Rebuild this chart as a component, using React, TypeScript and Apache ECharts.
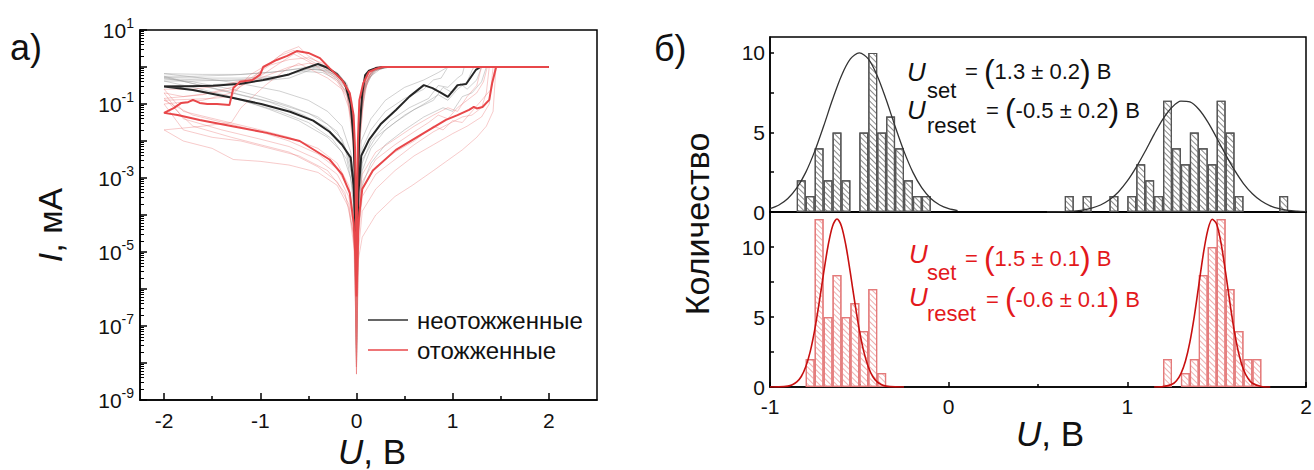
import React, { useEffect, useRef } from 'react';
import * as echarts from 'echarts';

const FONT = 'Liberation Sans';

// ---------- panel (a): I-V curves, [U (V), log10(I / mA)] ----------
const ivXTicks = [-2, -1, 0, 1, 2];
const ivXMinor = [-1.5, -0.5, 0.5, 1.5];
const ivYLabels = [-9, -7, -5, -3, -1, 1];
const ivYTicks = [-9, -8, -7, -6, -5, -4, -3, -2, -1, 0, 1];

const blackMain: number[][] = [
  [0, -5.3], [0.02, -3.4], [0.05, -2.4], [0.13, -1.97], [0.25, -1.55], [0.41, -1.16], [0.55, -0.8], [0.7, -0.49],
  [0.79, -0.57], [0.88, -0.7], [0.95, -0.81], [1.05, -0.49], [1.14, -0.46], [1.24, -0.08], [1.29, 0], [2.0, 0],
  [0.29, 0], [0.2, -0.03], [0.13, -0.1], [0.09, -0.22], [0.06, -0.71], [0.03, -1.8], [0.01, -3.5], [0, -5.3],
  [-0.01, -3.5], [-0.03, -2.0], [-0.06, -1.0], [-0.12, -0.45], [-0.2, -0.2], [-0.3, -0.02], [-0.4, 0.08],
  [-0.55, -0.05], [-0.7, -0.2], [-0.97, -0.35], [-1.2, -0.45], [-1.49, -0.51], [-1.75, -0.52], [-2.0, -0.53],
  [-1.7, -0.62], [-1.28, -0.84], [-0.99, -1.0], [-0.69, -1.21], [-0.45, -1.45], [-0.28, -1.75], [-0.15, -2.1],
  [-0.06, -2.45], [-0.03, -3.2], [-0.01, -4.4], [0, -5.3],
];

const redMain: number[][] = [
  [0, -6.2], [0.02, -4.3], [0.03, -3.95], [0.06, -3.3], [0.17, -2.8], [0.41, -2.24], [0.69, -1.8], [0.93, -1.43],
  [1.05, -1.3], [1.17, -1.16], [1.22, -1.08], [1.25, -1.12], [1.31, -1.08], [1.38, -0.89], [1.41, -0.44],
  [1.45, -0.02], [1.46, 0], [2.0, 0], [0.27, 0], [0.2, -0.05], [0.13, -0.13], [0.07, -0.44], [0.03, -0.9],
  [0.015, -2.0], [0.005, -4], [0, -6.2],
  [-0.005, -4], [-0.015, -2.2], [-0.03, -1.3], [-0.07, -0.7], [-0.15, -0.35], [-0.28, -0.03], [-0.38, 0.24],
  [-0.5, 0.38], [-0.62, 0.43], [-0.72, 0.3], [-0.83, 0.19], [-0.97, 0.0], [-1.0, -0.2], [-1.08, -0.35],
  [-1.21, -0.4], [-1.28, -0.57], [-1.32, -1.03], [-1.45, -1.0], [-1.55, -1.0], [-1.63, -0.97], [-1.7, -0.89],
  [-1.75, -0.95], [-1.82, -0.97], [-1.9, -1.11], [-2.0, -1.24],
  [-1.86, -1.3], [-1.63, -1.43], [-1.29, -1.6], [-0.93, -1.78], [-0.59, -2.0], [-0.28, -2.5], [-0.15, -2.9],
  [-0.07, -3.4], [-0.03, -4.2], [-0.01, -5.2], [0, -6.2],
];

const grayFaint: number[][][] = [
  [[0, -7], [0.01, -3.5], [0.05, -2.0], [0.15, -1.4], [0.3, -0.9], [0.5, -0.55], [0.7, -0.35], [0.85, -0.15], [0.95, 0], [0.35, 0], [0.2, -0.08], [0.1, -0.3], [0.05, -0.9], [0.02, -2], [0, -7], [-0.02, -2], [-0.05, -0.9], [-0.1, -0.45], [-0.2, -0.15], [-0.35, 0.02], [-0.5, 0], [-0.8, -0.12], [-1.2, -0.2], [-1.6, -0.2], [-2, -0.18], [-1.6, -0.3], [-1.2, -0.45], [-0.8, -0.65], [-0.5, -0.9], [-0.3, -1.2], [-0.15, -1.6], [-0.06, -2.3], [-0.02, -3.2], [0, -7]],
  [[0, -7.8], [0.02, -4], [0.06, -2.8], [0.15, -2.2], [0.3, -1.7], [0.5, -1.3], [0.7, -1.0], [0.85, -0.75], [0.95, -0.9], [1.05, -0.6], [1.15, -0.4], [1.2, -0.1], [1.22, 0], [0.3, 0], [0.18, -0.1], [0.1, -0.5], [0.05, -1.3], [0.02, -2.6], [0, -7.8], [-0.02, -2.4], [-0.05, -1.2], [-0.1, -0.6], [-0.2, -0.3], [-0.35, -0.1], [-0.5, -0.05], [-0.8, -0.25], [-1.2, -0.3], [-1.6, -0.3], [-2, -0.28], [-1.6, -0.5], [-1.2, -0.75], [-0.8, -1.0], [-0.5, -1.25], [-0.3, -1.55], [-0.15, -1.95], [-0.06, -2.6], [-0.02, -3.6], [0, -7.8]],
  [[0, -8.1], [0.02, -4.5], [0.06, -3.2], [0.15, -2.6], [0.3, -2.1], [0.5, -1.7], [0.7, -1.35], [0.9, -1.1], [1.0, -1.2], [1.1, -0.8], [1.2, -0.7], [1.3, -0.4], [1.35, 0], [0.25, 0], [0.15, -0.15], [0.08, -0.6], [0.04, -1.5], [0.015, -3], [0, -8.1], [-0.015, -2.8], [-0.04, -1.5], [-0.1, -0.7], [-0.2, -0.35], [-0.35, -0.15], [-0.55, -0.12], [-0.9, -0.3], [-1.3, -0.35], [-1.7, -0.38], [-2, -0.38], [-1.7, -0.55], [-1.3, -0.8], [-0.9, -1.15], [-0.6, -1.45], [-0.3, -1.9], [-0.15, -2.3], [-0.06, -3], [-0.02, -4], [0, -8.1]],
  [[0, -7.2], [0.02, -3.2], [0.06, -2.2], [0.15, -1.7], [0.3, -1.2], [0.5, -0.85], [0.7, -0.6], [0.8, -0.35], [0.88, -0.3], [0.95, 0], [0.35, 0], [0.25, -0.05], [0.15, -0.25], [0.07, -0.7], [0.03, -1.6], [0, -7.2], [-0.03, -1.5], [-0.07, -0.7], [-0.15, -0.35], [-0.3, -0.1], [-0.45, -0.05], [-0.7, -0.3], [-1.0, -0.38], [-1.4, -0.36], [-2, -0.32], [-1.7, -0.4], [-1.3, -0.6], [-1.0, -0.8], [-0.7, -1.05], [-0.4, -1.35], [-0.2, -1.75], [-0.08, -2.4], [-0.03, -3.2], [0, -7.2]],
  [[0, -7.6], [0.02, -3.8], [0.06, -2.6], [0.15, -2.0], [0.35, -1.45], [0.55, -1.1], [0.75, -0.85], [0.85, -0.5], [0.95, -0.55], [1.05, -0.3], [1.1, -0.2], [1.12, 0], [0.32, 0], [0.2, -0.1], [0.1, -0.4], [0.05, -1.1], [0.02, -2.3], [0, -7.6], [-0.02, -2.2], [-0.05, -1.0], [-0.1, -0.5], [-0.2, -0.22], [-0.4, -0.05], [-0.6, -0.1], [-0.9, -0.35], [-1.3, -0.45], [-1.7, -0.5], [-2, -0.5], [-1.6, -0.65], [-1.2, -0.9], [-0.8, -1.2], [-0.5, -1.5], [-0.25, -1.95], [-0.1, -2.5], [-0.03, -3.4], [0, -7.6]],
  [[0, -6.8], [0.02, -3.6], [0.06, -2.5], [0.2, -1.9], [0.4, -1.5], [0.6, -1.15], [0.8, -0.9], [0.9, -0.55], [1.0, -0.7], [1.08, -0.45], [1.15, -0.6], [1.25, -0.35], [1.3, 0], [0.28, 0], [0.18, -0.12], [0.09, -0.45], [0.04, -1.2], [0.015, -2.5], [0, -6.8], [-0.02, -2.0], [-0.06, -0.9], [-0.12, -0.4], [-0.25, -0.12], [-0.4, 0.0], [-0.6, -0.05], [-0.9, -0.15], [-1.3, -0.22], [-1.7, -0.25], [-2, -0.25], [-1.7, -0.45], [-1.3, -0.7], [-0.9, -0.95], [-0.55, -1.3], [-0.3, -1.65], [-0.12, -2.2], [-0.04, -3.0], [0, -6.8]],
];

const pinkFaint: number[][][] = [
  [[0, -8.3], [0.02, -5], [0.06, -3.9], [0.2, -3.3], [0.4, -2.8], [0.6, -2.4], [0.8, -2.1], [1.0, -1.8], [1.15, -1.6], [1.3, -1.35], [1.38, -1.0], [1.42, 0], [0.22, 0], [0.14, -0.2], [0.08, -0.7], [0.04, -1.8], [0.015, -3.5], [0, -8.3], [-0.015, -3.3], [-0.04, -1.7], [-0.1, -0.8], [-0.2, -0.4], [-0.35, -0.1], [-0.5, 0.15], [-0.65, 0.35], [-0.8, 0.1], [-1.0, -0.25], [-1.3, -0.55], [-1.6, -0.75], [-2, -0.85], [-1.7, -1.6], [-1.3, -1.9], [-1.0, -2.1], [-0.7, -2.3], [-0.4, -2.7], [-0.2, -3.1], [-0.08, -3.7], [-0.02, -4.8], [0, -8.3]],
  [[0, -7.9], [0.02, -4.6], [0.06, -3.5], [0.2, -2.9], [0.4, -2.5], [0.6, -2.1], [0.8, -1.75], [0.95, -1.55], [1.1, -1.35], [1.2, -1.3], [1.3, -1.1], [1.35, -0.7], [1.38, 0], [0.25, 0], [0.15, -0.12], [0.08, -0.5], [0.04, -1.3], [0.015, -3.0], [0, -7.9], [-0.015, -3.0], [-0.04, -1.5], [-0.1, -0.7], [-0.2, -0.3], [-0.35, 0.05], [-0.5, 0.3], [-0.6, 0.55], [-0.75, 0.4], [-0.9, 0.1], [-1.1, -0.2], [-1.25, -0.6], [-1.5, -0.7], [-1.8, -0.8], [-2, -0.7], [-1.8, -1.4], [-1.4, -1.7], [-1.0, -1.95], [-0.7, -2.15], [-0.4, -2.5], [-0.2, -2.9], [-0.08, -3.5], [-0.02, -4.5], [0, -7.9]],
  [[0, -8.1], [0.02, -5.2], [0.06, -4.6], [0.2, -4.0], [0.4, -3.5], [0.58, -3.2], [0.8, -2.8], [1.1, -2.24], [1.25, -1.9], [1.35, -1.6], [1.42, -1.2], [1.45, 0], [0.2, 0], [0.12, -0.3], [0.07, -1.0], [0.03, -2.2], [0.01, -4], [0, -8.1], [-0.01, -4], [-0.03, -2.2], [-0.08, -1.1], [-0.15, -0.6], [-0.3, -0.3], [-0.45, -0.1], [-0.6, 0.1], [-0.75, -0.1], [-0.95, -0.5], [-1.2, -1.1], [-1.3, -1.5], [-1.6, -1.6], [-2, -1.7], [-1.8, -2.0], [-1.5, -2.2], [-1.28, -2.5], [-1.0, -2.55], [-0.7, -2.65], [-0.4, -2.85], [-0.2, -3.2], [-0.08, -3.8], [-0.02, -5], [0, -8.1]],
  [[0, -7.0], [0.02, -4.2], [0.06, -3.1], [0.2, -2.5], [0.4, -2.1], [0.6, -1.75], [0.75, -1.5], [0.85, -1.3], [0.95, -1.4], [1.05, -1.1], [1.15, -0.9], [1.25, -0.7], [1.32, -0.4], [1.36, 0], [0.3, 0], [0.2, -0.1], [0.1, -0.4], [0.05, -1.0], [0.02, -2.4], [0, -7], [-0.02, -2.5], [-0.05, -1.2], [-0.1, -0.6], [-0.2, -0.25], [-0.35, 0.1], [-0.5, 0.25], [-0.7, 0.2], [-0.9, 0.05], [-1.1, -0.3], [-1.4, -0.5], [-1.7, -0.6], [-2, -0.6], [-1.8, -1.2], [-1.4, -1.45], [-1.0, -1.7], [-0.7, -1.9], [-0.4, -2.2], [-0.2, -2.6], [-0.08, -3.2], [-0.02, -4.2], [0, -7]],
  [[0, -7.5], [0.02, -4.4], [0.06, -3.3], [0.2, -2.7], [0.4, -2.3], [0.6, -2.0], [0.8, -1.6], [0.9, -1.7], [1.0, -1.45], [1.1, -1.5], [1.2, -1.2], [1.3, -0.9], [1.4, -0.6], [1.44, 0], [0.24, 0], [0.15, -0.15], [0.08, -0.6], [0.04, -1.5], [0.015, -3.2], [0, -7.5], [-0.015, -3.0], [-0.04, -1.6], [-0.1, -0.75], [-0.2, -0.35], [-0.35, 0.0], [-0.5, 0.2], [-0.65, 0.45], [-0.8, 0.3], [-0.95, 0.0], [-1.1, -0.35], [-1.3, -0.7], [-1.6, -0.9], [-2, -1.0], [-1.8, -1.7], [-1.5, -1.9], [-1.2, -2.0], [-0.9, -2.2], [-0.6, -2.4], [-0.3, -2.8], [-0.12, -3.4], [-0.03, -4.5], [0, -7.5]],
  [[0, -6.6], [0.02, -3.8], [0.06, -2.9], [0.2, -2.3], [0.4, -1.95], [0.6, -1.6], [0.8, -1.3], [0.95, -1.1], [1.05, -1.2], [1.15, -0.8], [1.25, -0.5], [1.3, 0], [0.3, 0], [0.18, -0.08], [0.1, -0.35], [0.05, -0.9], [0.02, -2.2], [0, -6.6], [-0.02, -2.2], [-0.05, -1.0], [-0.1, -0.5], [-0.2, -0.2], [-0.35, 0.05], [-0.5, 0.1], [-0.7, 0.0], [-0.9, -0.2], [-1.2, -0.5], [-1.3, -0.8], [-1.5, -0.85], [-2, -0.9], [-1.7, -1.3], [-1.3, -1.55], [-1.0, -1.75], [-0.7, -2.0], [-0.4, -2.35], [-0.2, -2.75], [-0.08, -3.3], [-0.02, -4.3], [0, -6.6]],
];

const legendLabels = ['неотожженные', 'отожженные'];

// ---------- panel (б): histograms ----------
const histXTicks = [-1, 0, 1, 2];
const histXMinor = [-0.5, 0.5, 1.5];
const histYLabels = [0, 5, 10];
const histYTicks = [0, 2.5, 5, 7.5, 10];
const binWidth = 0.05;

const topResetStart = -0.85;
const topResetCounts = [2, 1, 4, 2, 5, 2, 0, 5, 10, 5, 6, 4, 2, 1, 1];
const topSetStart = 0.65;
const topSetCounts = [1, 0, 1, 0, 0, 1, 0, 1, 3, 2, 1, 7, 4, 3, 5, 4, 3, 7, 5, 1, 0, 0, 0, 0, 1];
const bottomResetStart = -0.8;
const bottomResetCounts = [2, 12, 5, 8, 5, 6, 4, 7, 1];
const bottomSetStart = 1.2;
const bottomSetCounts = [2, 0, 1, 2, 8, 10, 12, 7, 4, 2, 2];

const topResetFit = [[-1, 0.21], [-0.95, 0.44], [-0.9, 0.85], [-0.85, 1.51], [-0.8, 2.49], [-0.75, 3.81], [-0.7, 5.39], [-0.65, 7.07], [-0.6, 8.57], [-0.55, 9.62], [-0.5, 10], [-0.45, 9.62], [-0.4, 8.57], [-0.35, 7.07], [-0.3, 5.39], [-0.25, 3.81], [-0.2, 2.49], [-0.15, 1.51], [-0.1, 0.85], [-0.05, 0.44], [0, 0.21], [0.05, 0.09]];
const topSetFit = [[0.55, 0.004], [0.6, 0.011], [0.65, 0.026], [0.7, 0.057], [0.75, 0.12], [0.8, 0.24], [0.85, 0.44], [0.9, 0.77], [0.95, 1.26], [1.0, 1.95], [1.05, 2.82], [1.1, 3.82], [1.15, 4.88], [1.2, 5.85], [1.25, 6.58], [1.3, 6.97], [1.35, 6.92], [1.4, 6.46], [1.45, 5.67], [1.5, 4.67], [1.55, 3.61], [1.6, 2.63], [1.65, 1.79], [1.7, 1.15], [1.75, 0.69], [1.8, 0.39], [1.85, 0.21], [1.9, 0.1], [1.95, 0.05], [2.0, 0.02]];
const bottomResetFit = [[-1, 0.001], [-0.95, 0.008], [-0.9, 0.06], [-0.875, 0.16], [-0.85, 0.36], [-0.825, 0.75], [-0.8, 1.44], [-0.775, 2.53], [-0.75, 4.07], [-0.725, 6.01], [-0.7, 8.13], [-0.675, 10.09], [-0.65, 11.49], [-0.625, 12], [-0.6, 11.49], [-0.575, 10.09], [-0.55, 8.13], [-0.525, 6.01], [-0.5, 4.07], [-0.475, 2.53], [-0.45, 1.44], [-0.425, 0.75], [-0.4, 0.36], [-0.375, 0.16], [-0.35, 0.06], [-0.3, 0.008], [-0.25, 0.001]];
const bottomSetFit = [[1.15, 0.002], [1.2, 0.026], [1.25, 0.19], [1.275, 0.45], [1.3, 0.96], [1.325, 1.84], [1.35, 3.21], [1.375, 5.07], [1.4, 7.28], [1.425, 9.48], [1.45, 11.19], [1.475, 11.98], [1.5, 11.63], [1.525, 10.24], [1.55, 8.18], [1.575, 5.93], [1.6, 3.9], [1.625, 2.32], [1.65, 1.25], [1.675, 0.62], [1.7, 0.27], [1.75, 0.04], [1.8, 0.004]];

const topTexts = ['1.3 ± 0.2', '-0.5 ± 0.2'];
const bottomTexts = ['1.5 ± 0.1', '-0.6 ± 0.1'];

// ---------- layout ----------
const GL = { left: 140, top: 30, width: 457, height: 370 };
const GT = { left: 770, top: 37, width: 536, height: 175 };
const GB = { left: 770, top: 212, width: 536, height: 175 };
const RED_TXT = '#e3191c';

function bins(start: number, counts: number[]) {
  const out: number[][] = [];
  counts.forEach((c, i) => {
    if (c > 0) out.push([start + (i + 0.5) * binWidth, c]);
  });
  return out;
}

function logMinorTicks() {
  const out: number[] = [];
  for (let n = -9; n < 1; n++) for (let k = 2; k <= 9; k++) out.push(n + Math.log10(k));
  return out;
}

export default function App() {
  const ref = useRef<HTMLDivElement>(null);
  useEffect(() => {
    if (!ref.current) return;
    const chart = echarts.init(ref.current, undefined, { renderer: 'svg' });
    const ax = { color: '#000', width: 1.5 };
    const gridBase = { show: true, borderColor: '#000', borderWidth: 1.5, backgroundColor: 'transparent', containLabel: false, outerBoundsMode: 'none' };
    const barPx = (binWidth * GT.width) / 3;

    const faint = (arr: number[][][], color: string) =>
      arr.map((d) => ({
        type: 'line', xAxisIndex: 0, yAxisIndex: 0, data: d, showSymbol: false, silent: true,
        lineStyle: { color, width: 0.8 }, z: 2,
      }));

    const decal = (color: string) => ({
      symbol: 'rect', symbolSize: 1, color, dashArrayX: [1, 0], dashArrayY: [1, 3], rotation: Math.PI / 4,
    });

    const txt = (x: number, y: number, text: string, size: number, color: string, extra: any = {}) => ({
      type: 'text', x, y, silent: true,
      style: { text, fontSize: size, fontFamily: FONT, fill: color, verticalAlign: 'middle', align: 'left', ...extra },
    });

    const eq = (x: number, y: number, inner: string, color: string) => ({
      type: 'text', x, y, silent: true,
      style: {
        text: `{t|= }{p|(}{t|${inner}}{p|)}{t| В}`, fill: color, verticalAlign: 'middle', align: 'left', fontFamily: FONT,
        rich: {
          t: { fontSize: 22, fontFamily: FONT, fill: color, verticalAlign: 'middle', lineHeight: 34 },
          p: { fontSize: 32, fontFamily: FONT, fill: color, verticalAlign: 'middle', lineHeight: 34 },
        },
      },
    });

    const axisTitle = (x: number, y: number, italic: string, rest: string, size: number, rotation = 0) => ({
      type: 'text', x, y, rotation, silent: true,
      style: {
        text: `{i|${italic}}{n|${rest}}`, align: 'center', verticalAlign: 'middle',
        rich: {
          i: { fontSize: size, fontFamily: FONT, fontStyle: 'italic', fill: '#111' },
          n: { fontSize: size, fontFamily: FONT, fill: '#111' },
        },
      },
    });

    const option: any = {
      animation: false,
      textStyle: { fontFamily: FONT },
      grid: [
        { ...gridBase, ...GL },
        { ...gridBase, ...GT },
        { ...gridBase, ...GB },
      ],
      xAxis: [
        {
          gridIndex: 0, type: 'value', min: -2.25, max: 2.5, position: 'bottom',
          axisLine: { show: true, onZero: false, lineStyle: ax }, splitLine: { show: false },
          axisTick: { show: true, inside: true, length: 7, customValues: ivXTicks, lineStyle: ax },
          axisLabel: { customValues: ivXTicks, fontSize: 21, color: '#111', margin: 10, fontFamily: FONT, formatter: (v: number) => String(v) },
        },
        {
          gridIndex: 0, type: 'value', min: -2.25, max: 2.5, position: 'bottom',
          axisLine: { show: false, onZero: false }, splitLine: { show: false },
          axisTick: { show: true, inside: true, length: 4, customValues: ivXMinor, lineStyle: ax },
          axisLabel: { show: false },
        },
        {
          gridIndex: 1, type: 'value', min: -1, max: 2, position: 'bottom',
          axisLine: { show: true, onZero: false, lineStyle: ax }, splitLine: { show: false },
          axisTick: { show: false }, axisLabel: { show: false },
        },
        {
          gridIndex: 2, type: 'value', min: -1, max: 2, position: 'bottom',
          axisLine: { show: true, onZero: false, lineStyle: ax }, splitLine: { show: false },
          axisTick: { show: true, inside: true, length: 5, customValues: histXTicks, lineStyle: ax },
          axisLabel: { customValues: histXTicks, fontSize: 21, color: '#111', margin: 9, fontFamily: FONT, formatter: (v: number) => String(v) },
        },
        {
          gridIndex: 2, type: 'value', min: -1, max: 2, position: 'bottom',
          axisLine: { show: false, onZero: false }, splitLine: { show: false },
          axisTick: { show: true, inside: true, length: 3, customValues: histXMinor, lineStyle: ax },
          axisLabel: { show: false },
        },
      ],
      yAxis: [
        {
          gridIndex: 0, type: 'value', min: -9, max: 1, position: 'left',
          axisLine: { show: true, onZero: false, lineStyle: ax }, splitLine: { show: false },
          axisTick: { show: true, inside: true, length: 7, customValues: ivYTicks, lineStyle: ax },
          axisLabel: {
            customValues: ivYLabels, margin: 6, color: '#111',
            formatter: (v: number) => `{b|10}{s|${v}}`,
            rich: {
              b: { fontSize: 21, fontFamily: FONT, color: '#111', verticalAlign: 'middle', lineHeight: 28 },
              s: { fontSize: 14, fontFamily: FONT, color: '#111', verticalAlign: 'top', lineHeight: 28 },
            },
          },
        },
        {
          gridIndex: 0, type: 'value', min: -9, max: 1, position: 'left',
          axisLine: { show: false, onZero: false }, splitLine: { show: false },
          axisTick: { show: true, inside: true, length: 4, customValues: logMinorTicks(), lineStyle: { color: '#000', width: 1 } },
          axisLabel: { show: false },
        },
        {
          gridIndex: 1, type: 'value', min: 0, max: 11, position: 'left',
          axisLine: { show: true, onZero: false, lineStyle: ax }, splitLine: { show: false },
          axisTick: { show: true, inside: true, length: 4, customValues: histYTicks, lineStyle: ax },
          axisLabel: { customValues: histYLabels, fontSize: 21, color: '#111', margin: 5, fontFamily: FONT },
        },
        {
          gridIndex: 2, type: 'value', min: 0, max: 12.5, position: 'left',
          axisLine: { show: true, onZero: false, lineStyle: ax }, splitLine: { show: false },
          axisTick: { show: true, inside: true, length: 4, customValues: histYTicks, lineStyle: ax },
          axisLabel: { customValues: histYLabels, fontSize: 21, color: '#111', margin: 5, fontFamily: FONT },
        },
      ],
      series: [
        ...faint(grayFaint, 'rgba(150,150,150,0.55)'),
        ...faint(pinkFaint, 'rgba(232,110,110,0.45)'),
        {
          type: 'line', xAxisIndex: 0, yAxisIndex: 0, data: blackMain, showSymbol: false, silent: true,
          lineStyle: { color: '#262626', width: 2 }, z: 3,
        },
        {
          type: 'line', xAxisIndex: 0, yAxisIndex: 0, data: redMain, showSymbol: false, silent: true,
          lineStyle: { color: '#e8474a', width: 2 }, z: 4,
        },
        {
          type: 'bar', xAxisIndex: 2, yAxisIndex: 2, barWidth: barPx, silent: true,
          data: [...bins(topResetStart, topResetCounts), ...bins(topSetStart, topSetCounts)],
          itemStyle: { color: 'rgba(255,255,255,0)', borderColor: '#555', borderWidth: 1.2, decal: decal('#8a8a8a') },
          z: 2,
        },
        {
          type: 'bar', xAxisIndex: 3, yAxisIndex: 3, barWidth: barPx, silent: true,
          data: [...bins(bottomResetStart, bottomResetCounts), ...bins(bottomSetStart, bottomSetCounts)],
          itemStyle: { color: 'rgba(255,255,255,0)', borderColor: '#e47a7a', borderWidth: 1.2, decal: decal('#eeb0b0') },
          z: 2,
        },
        ...[topResetFit, topSetFit].map((d) => ({
          type: 'line', xAxisIndex: 2, yAxisIndex: 2, data: d, showSymbol: false, smooth: 0.3, silent: true,
          lineStyle: { color: '#333', width: 1.3 }, z: 5,
        })),
        ...[bottomResetFit, bottomSetFit].map((d) => ({
          type: 'line', xAxisIndex: 3, yAxisIndex: 3, data: d, showSymbol: false, smooth: 0.3, silent: true,
          lineStyle: { color: '#c81010', width: 1.6 }, z: 5,
        })),
      ],
      graphic: [
        txt(10, 47, 'а)', 36, '#111'),
        txt(654, 48, 'б)', 36, '#111'),
        axisTitle(50, 225, 'I', ', мА', 34, Math.PI / 2),
        axisTitle(372, 451, 'U', ', В', 35),
        axisTitle(1050, 433, 'U', ', В', 35),
        {
          type: 'text', x: 697, y: 224, rotation: Math.PI / 2, silent: true,
          style: { text: 'Количество', fontSize: 34, fontFamily: FONT, fill: '#111', align: 'center', verticalAlign: 'middle' },
        },
        { type: 'line', silent: true, shape: { x1: 368, y1: 320, x2: 408, y2: 320 }, style: { stroke: '#333', lineWidth: 1.5 } },
        txt(417, 320, legendLabels[0], 24, '#111'),
        { type: 'line', silent: true, shape: { x1: 368, y1: 350, x2: 408, y2: 350 }, style: { stroke: '#e8474a', lineWidth: 1.5 } },
        txt(417, 350, legendLabels[1], 24, '#111'),
        // top annotations
        txt(907, 72, 'U', 26, '#111', { fontStyle: 'italic' }),
        txt(927, 90, 'set', 22, '#111'),
        eq(965, 71, topTexts[0], '#111'),
        txt(907, 110, 'U', 26, '#111', { fontStyle: 'italic' }),
        txt(927, 125, 'reset', 22, '#111'),
        eq(986, 110, topTexts[1], '#111'),
        // bottom annotations
        txt(909, 254, 'U', 26, RED_TXT, { fontStyle: 'italic' }),
        txt(927, 272, 'set', 22, RED_TXT),
        eq(965, 258, bottomTexts[0], RED_TXT),
        txt(909, 297, 'U', 26, RED_TXT, { fontStyle: 'italic' }),
        txt(927, 313, 'reset', 22, RED_TXT),
        eq(986, 299, bottomTexts[1], RED_TXT),
      ],
    };
    chart.setOption(option);
    return () => chart.dispose();
  }, []);
  return (
    <div
      ref={ref}
      style={{ position: 'absolute', left: 0, top: 0, width: 1314, height: 470, background: '#fff' }}
    />
  );
}
